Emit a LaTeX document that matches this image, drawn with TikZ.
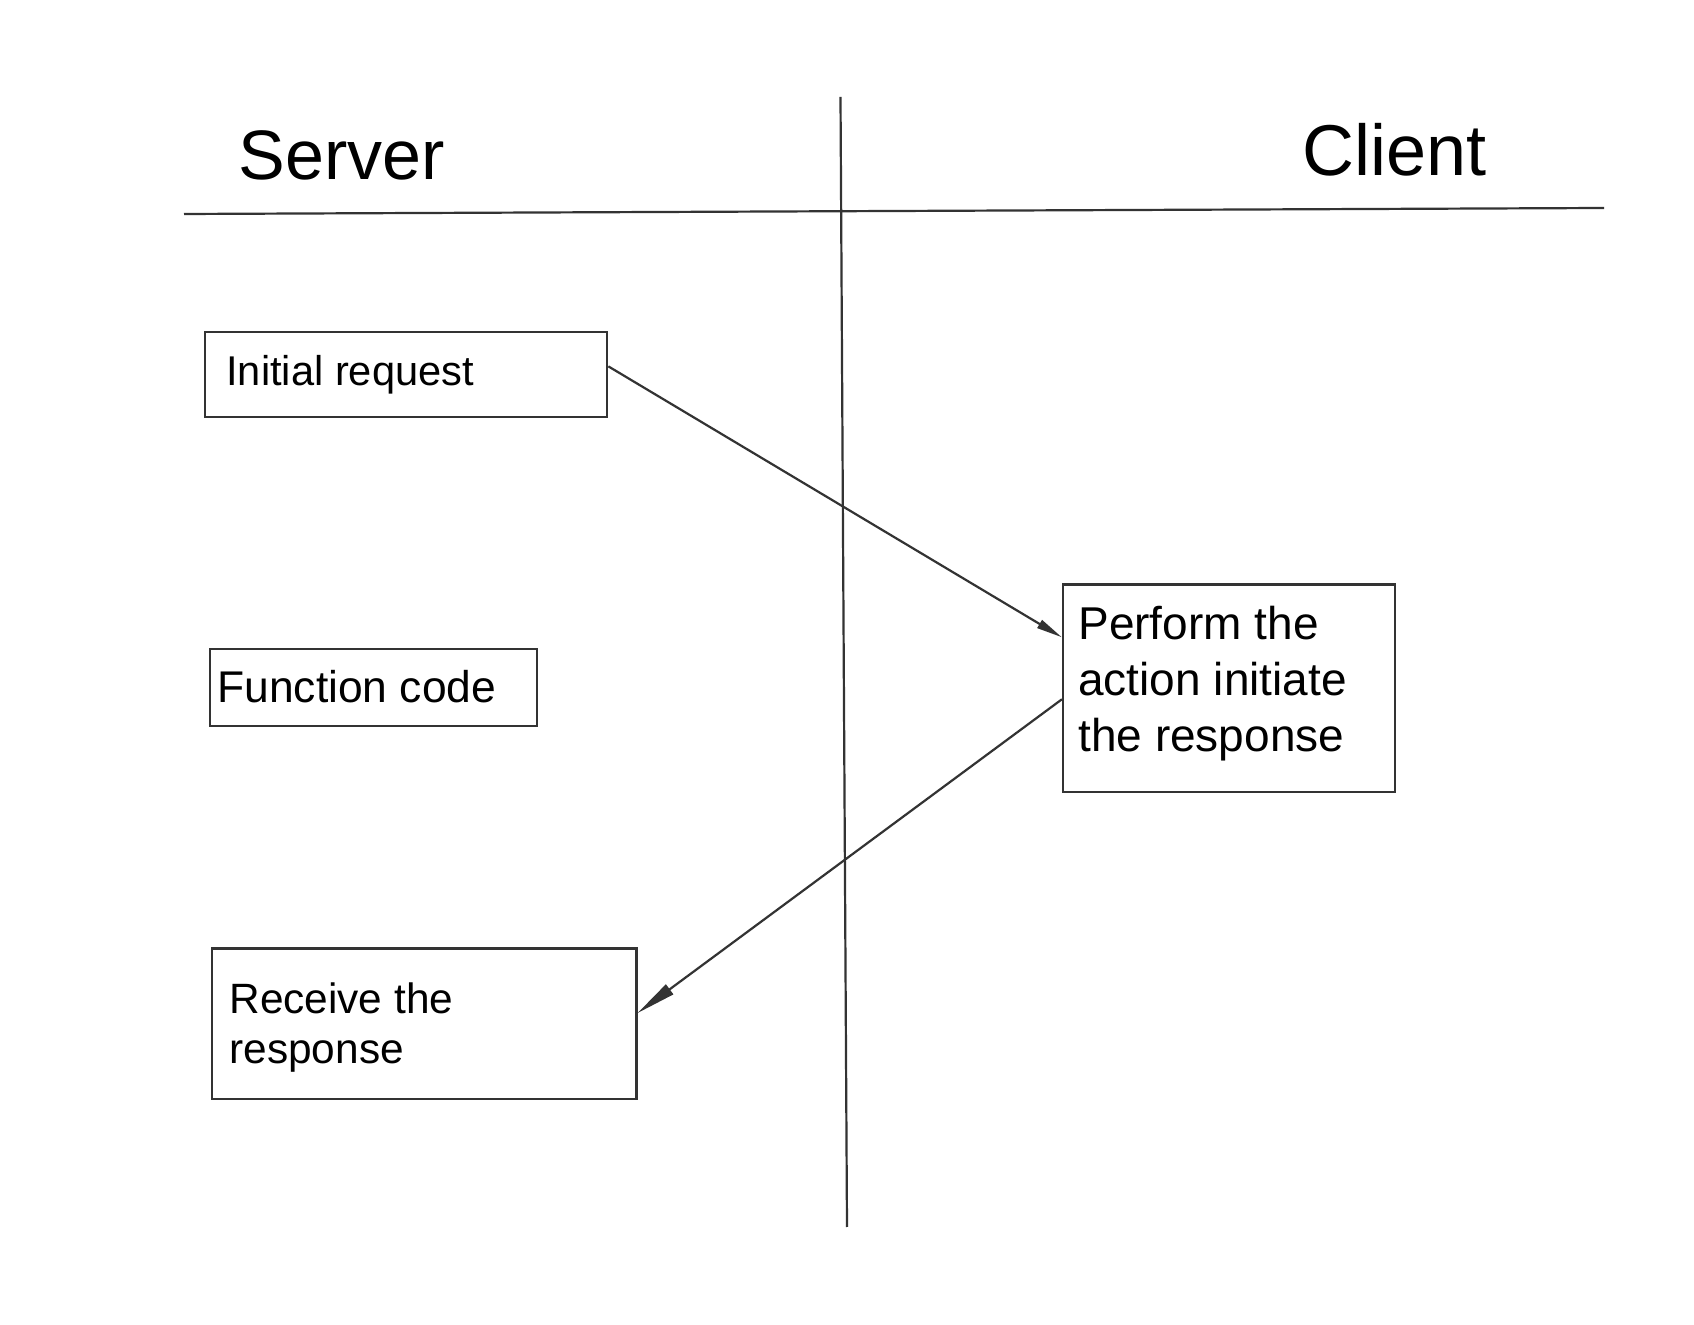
\documentclass[tikz,border=0pt]{standalone}
\usepackage{fontspec}
\setmainfont{Liberation Sans}
\usetikzlibrary{arrows.meta}
\begin{document}
\begin{tikzpicture}[x=0.5pt,y=-0.5pt,
  rule/.style={draw=black!80, line width=1.1pt},
  box/.style={draw=black!80, line width=1.1pt, rectangle, inner sep=0pt},
  txt/.style={anchor=base west, inner sep=0pt},
  flow/.style={draw=black!80, line width=1.1pt}]
\useasboundingbox[fill=white] (0,0) rectangle (1694,1325);

% swimlane rules
\coordinate (hl) at (184,214);
\coordinate (hr) at (1604,208);
\coordinate (vt) at (840.5,97);
\coordinate (vb) at (847,1227);
\draw[rule] (hl) -- (hr);
\draw[rule] (vt) -- (vb);

% lane headings
\node[txt, font=\fontsize{35pt}{42pt}\selectfont] (server) at (238,180) {Server};
\node[txt, font=\fontsize{36pt}{43pt}\selectfont] (client) at (1302,176) {Client};

% boxes
\node[box, minimum width=201pt, minimum height=42.6pt] (init) at (406.3,374.4) {};
\node[box, minimum width=163.7pt, minimum height=38.4pt] (func) at (373.3,687.7) {};
\node[box, minimum width=212.3pt, minimum height=75.1pt] (recv) at (424.1,1023.7) {};
\node[box, minimum width=165.9pt, minimum height=103.8pt] (perf) at (1228.9,688.3) {};

% box texts
\node[txt, font=\fontsize{20.8pt}{25pt}\selectfont] (initT) at (226,385.7) {Initial request};
\node[txt, font=\fontsize{22.2pt}{26.6pt}\selectfont] (funcT) at (217,703) {Function code};
\node[txt, font=\fontsize{21.2pt}{25.5pt}\selectfont] (recvT1) at (229,1013.4) {Receive the};
\node[txt, font=\fontsize{21.2pt}{25.5pt}\selectfont] (recvT2) at (229,1064) {response};
\node[txt, font=\fontsize{23pt}{27.6pt}\selectfont] (perfT1) at (1078,639.6) {Perform the};
\node[txt, font=\fontsize{23pt}{27.6pt}\selectfont] (perfT2) at (1078,695.8) {action initiate};
\node[txt, font=\fontsize{23pt}{27.6pt}\selectfont] (perfT3) at (1078,752) {the response};

% message flows
\draw[flow, -{Triangle[length=13pt, width=4.5pt]}]
  ([yshift=4pt]init.east) -- ([yshift=25.5pt]perf.west);
\draw[flow, -{Triangle[length=20pt, width=6pt]}]
  ([yshift=-5.5pt]perf.west) -- ([yshift=5.3pt]recv.east);
\end{tikzpicture}
\end{document}
